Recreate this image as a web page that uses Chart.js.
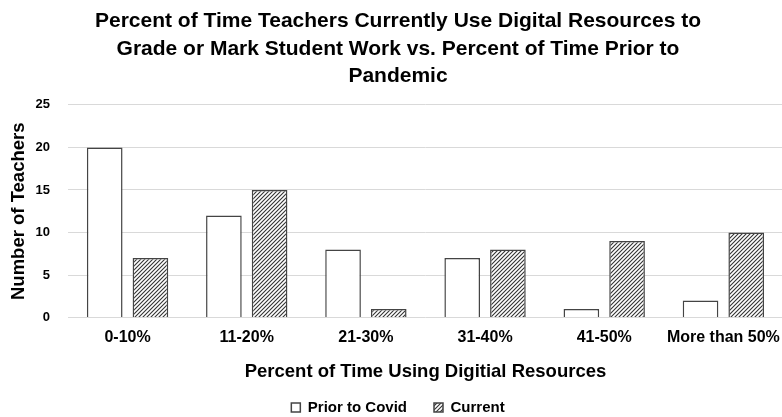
<!DOCTYPE html>
<html>
<head>
<meta charset="utf-8">
<script src="https://cdn.jsdelivr.net/npm/chart.js@4/dist/chart.umd.min.js"></script>
<style>
  html, body { margin: 0; padding: 0; overflow: hidden; background: #fff; }
  #chart { display: block; }
</style>
</head>
<body>
<canvas id="chart" width="790" height="417" style="width:790px;height:417px"></canvas>
<script>
// data
const categories = ['0-10%', '11-20%', '21-30%', '31-40%', '41-50%', 'More than 50%'];
const priorToCovid = [20, 12, 8, 7, 1, 2];
const current = [7, 15, 1, 8, 9, 10];
const yTicks = [0, 5, 10, 15, 20, 25];

const FONT = "'Liberation Sans', Arial, Helvetica, sans-serif";

// diagonal hatch for the "Current" bars
function makeHatch() {
    const c = document.createElement('canvas');
    c.width = 4;
    c.height = 4;
    const g = c.getContext('2d');
    g.fillStyle = '#fff';
    g.fillRect(0, 0, 4, 4);
    g.strokeStyle = '#333';
    g.lineWidth = 1.1;
    g.beginPath();
    g.moveTo(0, 4); g.lineTo(4, 0);
    g.moveTo(-1, 1); g.lineTo(1, -1);
    g.moveTo(3, 5); g.lineTo(5, 3);
    g.stroke();
    return g.createPattern(c, 'repeat');
}

const ctx = document.getElementById('chart').getContext('2d');
const hatch = makeHatch();

new Chart(ctx, {
    type: 'bar',
    data: {
        labels: categories,
        datasets: [
            {
                label: 'Prior to Covid',
                data: priorToCovid,
                backgroundColor: '#ffffff',
                borderColor: '#444',
                borderWidth: 1.5,
                categoryPercentage: 0.767,
                barPercentage: 0.78,
            },
            {
                label: 'Current',
                data: current,
                backgroundColor: hatch,
                borderColor: '#444',
                borderWidth: 1.5,
                categoryPercentage: 0.767,
                barPercentage: 0.78,
            },
        ],
    },
    options: {
        responsive: false,
        animation: false,
        layout: { padding: { top: 6, right: 2, bottom: -8, left: 8 } },
        plugins: {
            title: {
                display: true,
                text: [
                    'Percent of Time Teachers Currently Use Digital Resources to',
                    'Grade or Mark Student Work vs. Percent of Time Prior to',
                    'Pandemic',
                ],
                color: '#000',
                font: { family: FONT, size: 21, weight: 'bold', lineHeight: 1.3 },
                padding: { top: 2, bottom: 15 },
            },
            legend: {
                position: 'bottom',
                labels: {
                    color: '#000',
                    font: { family: FONT, size: 15, weight: 'bold' },
                    boxWidth: 9,
                    boxHeight: 9,
                    padding: 2,
                    // pad the first label so the two items sit apart like the original
                    generateLabels: (chart) => {
                        const items = Chart.defaults.plugins.legend.labels.generateLabels(chart);
                        items.forEach((it, i) => {
                            if (i < items.length - 1) it.text = it.text + '      ';
                        });
                        return items;
                    },
                },
            },
            tooltip: { enabled: false },
        },
        scales: {
            x: {
                grid: { display: false, drawTicks: false },
                border: { display: false },
                ticks: {
                    color: '#000',
                    font: { family: FONT, size: 16, weight: 'bold' },
                    maxRotation: 0,
                    autoSkip: false,
                    padding: 10,
                },
                title: {
                    display: true,
                    text: 'Percent of Time Using Digitial Resources',
                    color: '#000',
                    font: { family: FONT, size: 18.5, weight: 'bold' },
                    padding: { top: 4, bottom: 15 },
                },
            },
            y: {
                min: 0,
                max: 25,
                afterBuildTicks: (scale) => {
                    scale.ticks = yTicks.map(v => ({ value: v }));
                },
                afterFit: (scale) => { scale.width = 60; },
                grid: { color: '#d9d9d9', lineWidth: 1, drawTicks: false },
                border: { display: false },
                ticks: {
                    color: '#000',
                    font: { family: FONT, size: 13, weight: 'bold' },
                    padding: 18,
                },
                title: {
                    display: true,
                    text: 'Number of Teachers',
                    color: '#000',
                    font: { family: FONT, size: 18.5, weight: 'bold' },
                    padding: 0,
                },
            },
        },
    },
});
</script>
</body>
</html>
